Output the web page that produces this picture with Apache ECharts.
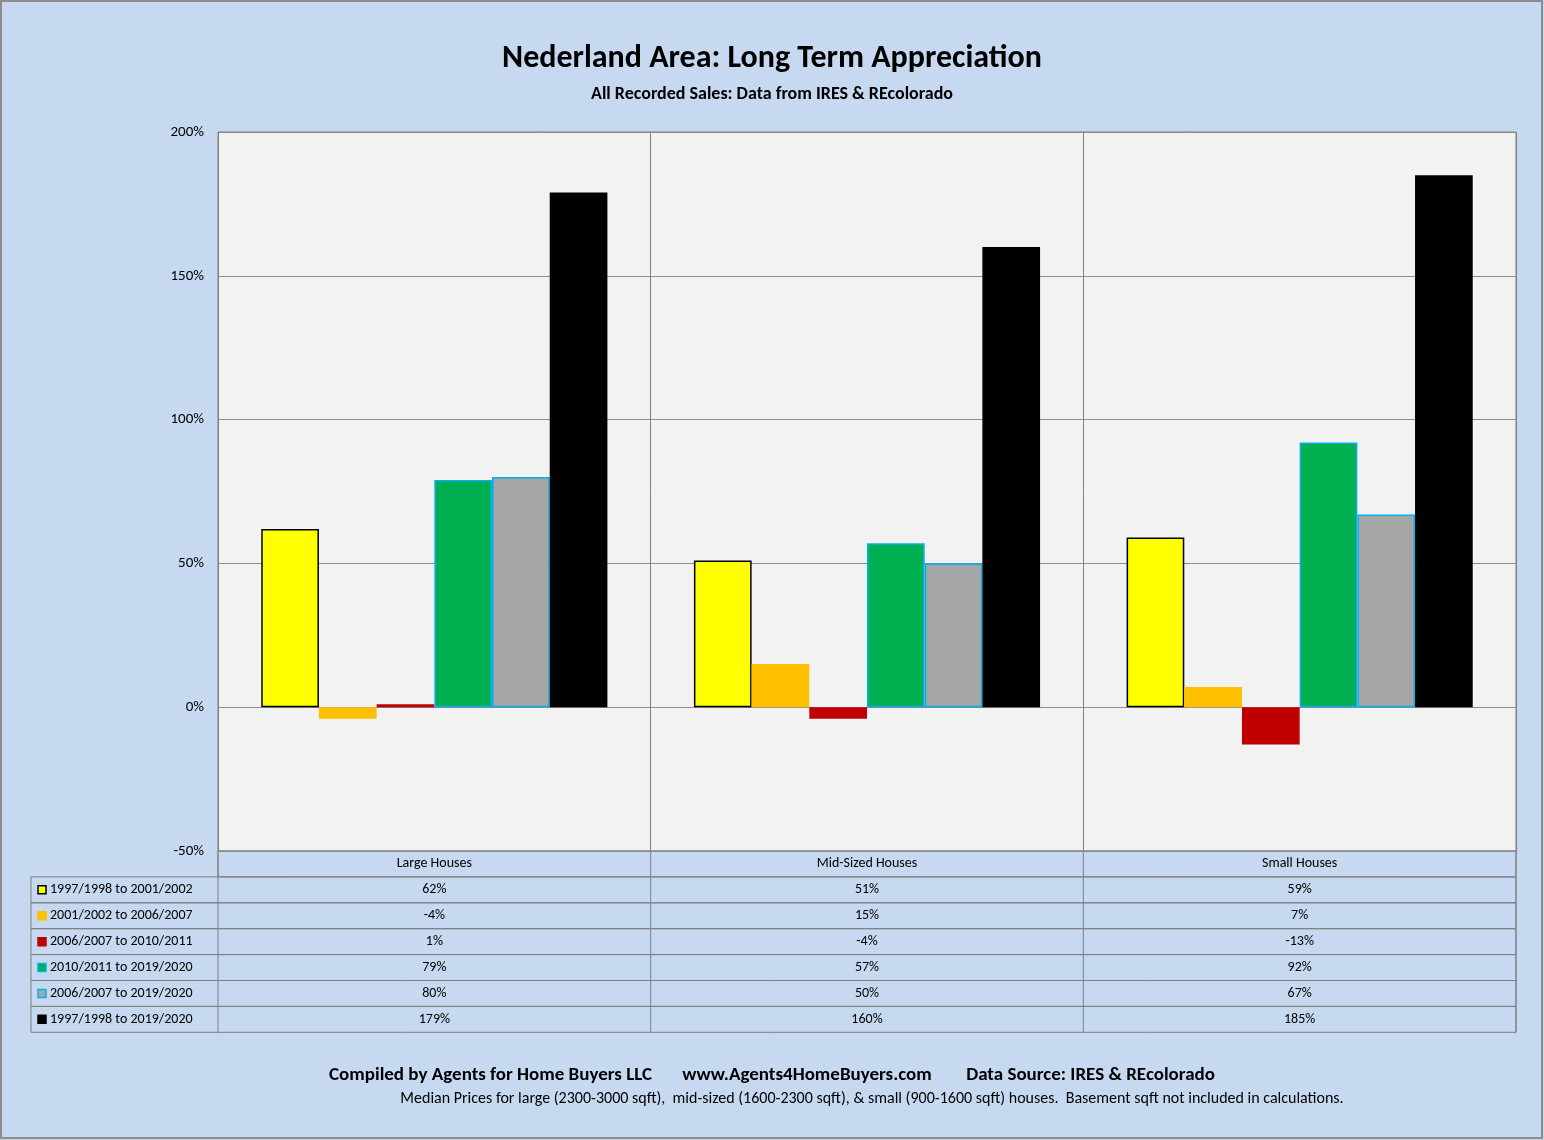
<!DOCTYPE html>
<html><head><meta charset="utf-8">
<script src="https://cdn.jsdelivr.net/npm/echarts@6/dist/echarts.min.js"></script>
<style>html,body{margin:0;padding:0;background:#c6d9f1}#main{width:1544px;height:1140px}</style>
</head><body><div id="main"></div>
<script>
var categories = ["Large Houses", "Mid-Sized Houses", "Small Houses"];
var seriesNames = ["1997/1998 to 2001/2002", "2001/2002 to 2006/2007", "2006/2007 to 2010/2011",
    "2010/2011 to 2019/2020", "2006/2007 to 2019/2020", "1997/1998 to 2019/2020"];
var values = [
    [62, 51, 59],
    [-4, 15, 7],
    [1, -4, -13],
    [79, 57, 92],
    [80, 50, 67],
    [179, 160, 185]
];
var colors = ["#ffff00", "#ffc000", "#c00000", "#00b050", "#a6a6a6", "#000000"];
var borders = ["#000000", "#ffc000", "#c00000", "#00b0f0", "#00b0f0", "#000000"];

var chart = echarts.init(document.getElementById("main"));
var L = 218, R = 1516, T = 132, B = 851, rowH = 25.9, tblL = 31;
var colW = (R - L) / categories.length;
var font = "Calibri, 'Open Sans', sans-serif";

var g = [];
// outer border
g.push({type: "rect", shape: {x: 1, y: 1, width: 1541, height: 1137}, style: {fill: "none", stroke: "#8c8c8c", lineWidth: 2}});
// table header row
g.push({type: "rect", shape: {x: L, y: B, width: R - L, height: rowH}, style: {fill: "none", stroke: "#7f7f7f", lineWidth: 1}});
categories.forEach(function (c, i) {
    g.push({type: "line", shape: {x1: L + colW * i, y1: B, x2: L + colW * i, y2: B + rowH * 7}, style: {stroke: "#7f7f7f"}});
    g.push({type: "text", x: L + colW * (i + 0.5), y: B + rowH / 2, style: {text: c, fill: "#000", font: "14px " + font, align: "center", verticalAlign: "middle"}});
});
g.push({type: "line", shape: {x1: R, y1: B, x2: R, y2: B + rowH * 7}, style: {stroke: "#7f7f7f"}});
seriesNames.forEach(function (n, s) {
    var y = B + rowH * (s + 1);
    g.push({type: "rect", shape: {x: tblL, y: y, width: R - tblL, height: rowH}, style: {fill: "none", stroke: "#7f7f7f", lineWidth: 1}});
    g.push({type: "rect", shape: {x: 38, y: y + rowH / 2 - 4, width: 8, height: 8}, style: {fill: colors[s], stroke: borders[s], lineWidth: 1.5}});
    g.push({type: "text", x: 50, y: y + rowH / 2, style: {text: n, fill: "#000", font: "14px " + font, verticalAlign: "middle"}});
    values[s].forEach(function (v, i) {
        g.push({type: "text", x: L + colW * (i + 0.5), y: y + rowH / 2, style: {text: v + "%", fill: "#000", font: "14px " + font, align: "center", verticalAlign: "middle"}});
    });
});
g.push({type: "text", x: 772, y: 1075, style: {text: "Compiled by Agents for Home Buyers LLC       www.Agents4HomeBuyers.com        Data Source: IRES & REcolorado", fill: "#000", font: "bold 19px " + font, align: "center", verticalAlign: "middle"}});
g.push({type: "text", x: 872, y: 1099, style: {text: "Median Prices for large (2300-3000 sqft),  mid-sized (1600-2300 sqft), & small (900-1600 sqft) houses.  Basement sqft not included in calculations.", fill: "#000", font: "16px " + font, align: "center", verticalAlign: "middle"}});

var option = {
    backgroundColor: "#c6d9f1",
    animation: false,
    title: {
        text: "Nederland Area: Long Term Appreciation",
        subtext: "All Recorded Sales: Data from IRES & REcolorado",
        left: "center", top: 38, itemGap: 10,
        textStyle: {fontSize: 32, fontWeight: "bold", color: "#000", fontFamily: font},
        subtextStyle: {fontSize: 18, fontWeight: "bold", color: "#000", fontFamily: font}
    },
    grid: {left: L, right: 1544 - R, top: T, bottom: 1140 - B, show: true, backgroundColor: "#f2f2f2", borderColor: "#7f7f7f", borderWidth: 1},
    xAxis: {
        type: "category", data: categories,
        axisLine: {show: false}, axisTick: {show: false}, axisLabel: {show: false},
        splitLine: {show: true, lineStyle: {color: "#7f7f7f"}}
    },
    yAxis: {
        type: "value", min: -50, max: 200, interval: 50,
        axisLine: {show: false}, axisTick: {show: false},
        axisLabel: {formatter: "{value}%", fontSize: 15, color: "#000", fontFamily: font, margin: 14},
        splitLine: {lineStyle: {color: "#8c8c8c"}}
    },
    series: seriesNames.map(function (n, s) {
        return {
            name: n, type: "bar", data: values[s], barGap: "0%", barCategoryGap: "20%",
            itemStyle: {color: colors[s], borderColor: borders[s], borderWidth: 1.5}
        };
    }),
    graphic: g
};
chart.setOption(option);
</script></body></html>
